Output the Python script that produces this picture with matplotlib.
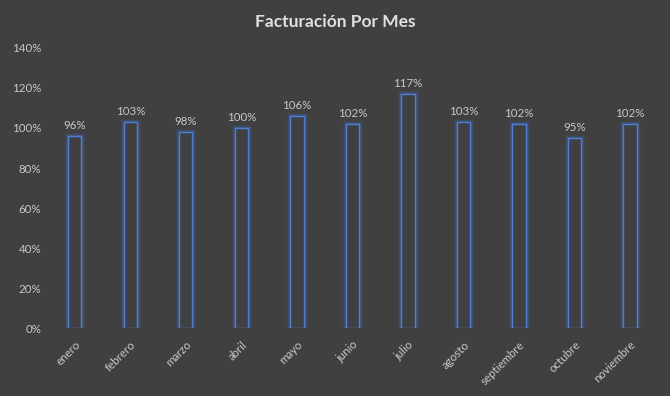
import matplotlib
matplotlib.use("Agg")
import matplotlib.pyplot as plt
import numpy as np

months = ["enero", "febrero", "marzo", "abril", "mayo", "junio", "julio",
          "agosto", "septiembre", "octubre", "noviembre"]
values = [96, 103, 98, 100, 106, 102, 117, 103, 102, 95, 102]
yticks = [0, 20, 40, 60, 80, 100, 120, 140]

bg = "#404040"
txt = "#c8c8c8"
blue = "#4472C4"

plt.rcParams['font.family'] = ['Lato', 'DejaVu Sans']

fig = plt.figure(figsize=(6.7, 3.96), dpi=100, facecolor=bg)
ax = fig.add_axes([0.070, 0.1717, 0.912, 0.7071], facecolor=bg)

x = np.arange(len(months))
# glow
for lw, a in [(5, 0.10), (3.5, 0.15), (2.2, 0.25)]:
    ax.bar(x, values, width=0.24, facecolor="none", edgecolor=blue, linewidth=lw, alpha=a)
ax.bar(x, values, width=0.24, facecolor=bg, edgecolor="#4a7fe0", linewidth=1.0)

for xi, v in zip(x, values):
    ax.text(xi, v + 2.5, f"{v}%", ha="center", va="bottom", color=txt, fontsize=8.3)

ax.set_xlim(-0.5, len(months) - 0.5)
ax.set_ylim(0, 140)
ax.set_yticks(yticks)
ax.set_yticklabels([f"{t}%" for t in yticks], color=txt, fontsize=8.3)
ax.set_xticks(x)
ax.set_xticklabels(months, rotation=45, ha="right", rotation_mode="anchor", color=txt, fontsize=8.3)
ax.tick_params(axis="both", length=0, pad=4)
ax.tick_params(axis="x", pad=8)
for s in ax.spines.values():
    s.set_visible(False)

fig.text(0.5, 0.945, "Facturación Por Mes", ha="center", va="center", color="#e0e0e0",
         fontsize=12.5, fontweight="bold")

fig.savefig("out.png", dpi=100, facecolor=bg)
